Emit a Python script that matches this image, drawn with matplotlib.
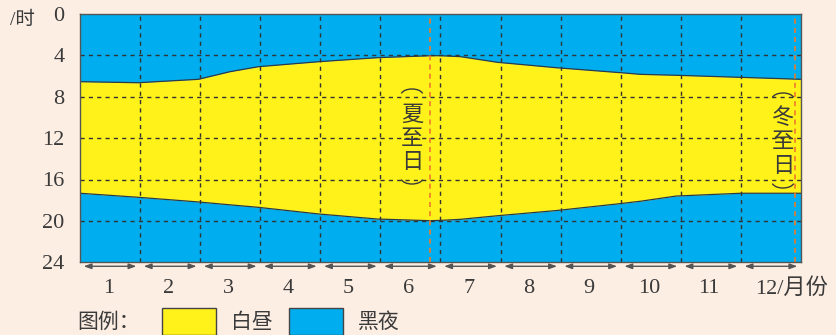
import matplotlib
matplotlib.use("Agg")
import matplotlib.pyplot as plt
from matplotlib.patches import Arc, Rectangle

# ---- data ----
months = list(range(1, 13))
month_labels = ["1", "2", "3", "4", "5", "6", "7", "8", "9", "10", "11", "12/月份"]
hour_ticks = [0, 4, 8, 12, 16, 20, 24]
# position in months from start of January (0..12)
t = [0.0, 0.97, 1.97, 2.5, 2.97, 3.97, 4.95, 5.83, 6.0, 6.33, 6.95, 7.93, 8.93, 9.33, 9.92, 11.0, 12.0]
sunrise = [6.55, 6.65, 6.32, 5.58, 5.1, 4.62, 4.23, 4.04, 4.04, 4.13, 4.68, 5.2, 5.65, 5.84, 5.93, 6.13, 6.32]
sunset = [17.33, 17.72, 18.17, 18.45, 18.69, 19.33, 19.82, 19.98, 19.95, 19.85, 19.5, 19.0, 18.37, 18.1, 17.6, 17.33, 17.33]
summer_solstice = 5.83
winter_solstice = 11.9

BG = "#fdeee4"
BLUE = "#00aeef"
YELLOW = "#fff21a"
TXT = "#3a3a3a"
SERIF = ["Liberation Serif", "Noto Sans CJK SC"]
CJK = ["Noto Sans CJK SC", "DejaVu Sans"]

W, H = 837, 335
fig = plt.figure(figsize=(W / 100, H / 100), dpi=100, facecolor=BG)
L, R, T, B = 80, 801, 13.9, 262.3
ax = fig.add_axes([L / W, 1 - B / H, (R - L) / W, (B - T) / H])
ax.set_facecolor(BG)

ax.fill_between(t, 0, sunrise, color=BLUE, lw=0)
ax.fill_between(t, sunrise, sunset, color=YELLOW, lw=0)
ax.fill_between(t, sunset, 24, color=BLUE, lw=0)
ax.plot(t, sunrise, color="#2a3a48", lw=0.9)
ax.plot(t, sunset, color="#2a3a48", lw=0.9)

ax.set_xlim(0, 12)
ax.set_ylim(24, 0)

for h in hour_ticks[1:-1]:
    ax.axhline(h, color="#333333", lw=1.0, ls=(0, (3, 3)))
for m in months[:-1]:
    ax.axvline(m, color="#333333", lw=1.0, ls=(0, (3, 3)))
for s in (summer_solstice, winter_solstice):
    ax.axvline(s, color="#f07a2a", lw=1.2, ls=(0, (3, 2.5)))

for sp in ax.spines.values():
    sp.set_color("#555555")
    sp.set_linewidth(1.0)

ax.set_xticks([])
ax.set_yticks(hour_ticks)
ax.set_yticklabels([str(h) for h in hour_ticks], family=SERIF, fontsize=16, color=TXT)
ax.tick_params(axis="y", length=0, pad=11)

# arrows between month boundaries and month labels
trans = ax.get_xaxis_transform()
for i, m in enumerate(months):
    x0 = m - 1 + 0.06
    x1 = m - 0.06
    ax.annotate("", xy=(x1, -0.016), xytext=(x0, -0.016), xycoords=trans, textcoords=trans,
                arrowprops=dict(arrowstyle="<|-|>,head_length=0.45,head_width=0.16",
                                color="#555555", lw=1.0, shrinkA=0, shrinkB=0),
                annotation_clip=False)
    if i < 11:
        ax.text(m - 0.53, -0.105, month_labels[i], transform=trans, ha="center", va="center",
                family=SERIF, fontsize=16, color=TXT)
    else:
        ax.text(11.24, -0.105, month_labels[i], transform=trans, ha="left", va="center",
                family=SERIF, fontsize=16, color=TXT)

# vertical labels with arc-shaped vertical parentheses
def vtext(xpx, y_open, ys, y_close, chars):
    fig.add_artist(Arc((xpx / W, 1 - y_open / H), 22 / W, 12 / H, theta1=20, theta2=160,
                       transform=fig.transFigure, color=TXT, lw=1.0))
    fig.add_artist(Arc((xpx / W, 1 - y_close / H), 22 / W, 12 / H, theta1=200, theta2=340,
                       transform=fig.transFigure, color=TXT, lw=1.0))
    for y, c in zip(ys, chars):
        fig.text(xpx / W, 1 - y / H, c, ha="center", va="center", family=CJK,
                 fontsize=16, color=TXT)

vtext(412, 95, [114, 138, 161], 178, ["夏", "至", "日"])
vtext(783, 99, [118, 142, 165], 182, ["冬", "至", "日"])

# y-axis unit
fig.text(10 / W, 1 - 20 / H, "/时", ha="left", va="center", family=SERIF, fontsize=14, color=TXT)

# legend
fig.text(77 / W, 1 - 322 / H, "图例：", ha="left", va="center", family=CJK, fontsize=15, color=TXT)
for x0, col, lab in [(162, YELLOW, "白昼"), (289, BLUE, "黑夜")]:
    fig.add_artist(Rectangle((x0 / W, 0), 54 / W, (335 - 308) / H, transform=fig.transFigure,
                             facecolor=col, edgecolor="#444444", lw=1.0))
    fig.text((x0 + 69) / W, 1 - 322 / H, lab, ha="left", va="center", family=CJK, fontsize=15, color=TXT)

fig.savefig("out.png", dpi=100, facecolor=BG)
